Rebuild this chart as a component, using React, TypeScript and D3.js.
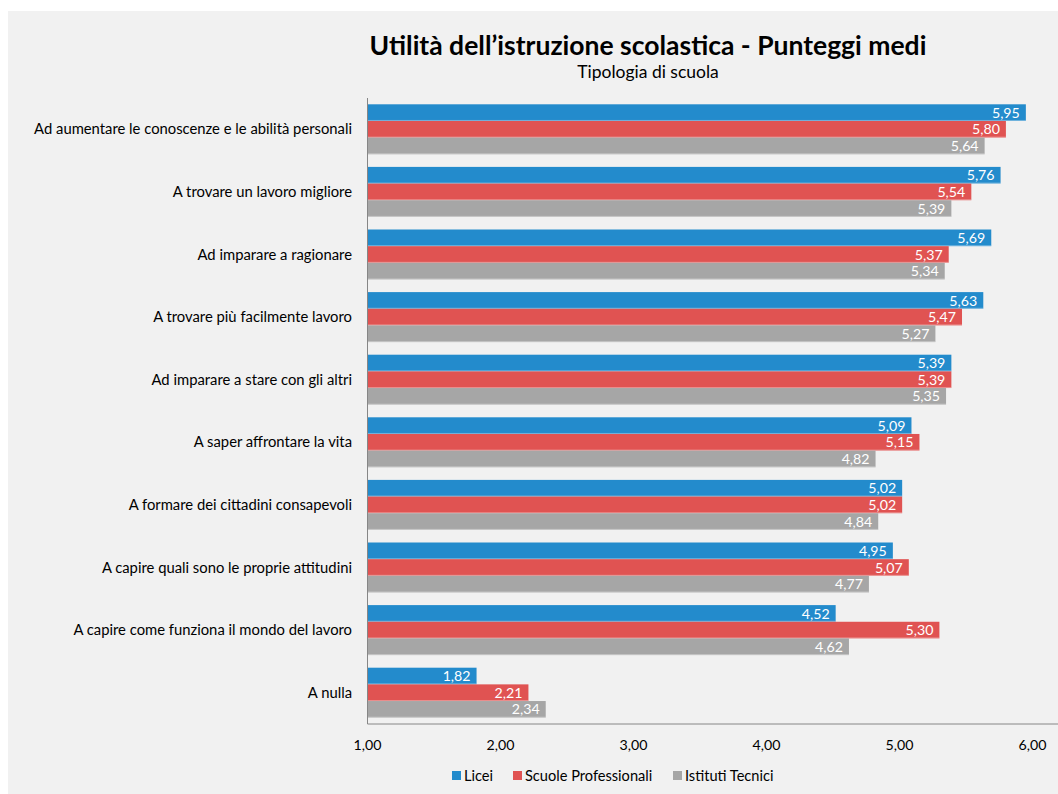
import React from "react";
import * as d3 from "d3";

const categories = [
  "Ad aumentare le conoscenze e le abilità personali",
  "A trovare un lavoro migliore",
  "Ad imparare a ragionare",
  "A trovare più facilmente lavoro",
  "Ad imparare a stare con gli altri",
  "A saper affrontare la vita",
  "A formare dei cittadini consapevoli",
  "A capire quali sono le proprie attitudini",
  "A capire come funziona il mondo del lavoro",
  "A nulla",
];
const licei = [5.95, 5.76, 5.69, 5.63, 5.39, 5.09, 5.02, 4.95, 4.52, 1.82];
const professionali = [5.8, 5.54, 5.37, 5.47, 5.39, 5.15, 5.02, 5.07, 5.3, 2.21];
const tecnici = [5.64, 5.39, 5.34, 5.27, 5.35, 4.82, 4.84, 4.77, 4.62, 2.34];
const seriesNames = ["Licei", "Scuole Professionali", "Istituti Tecnici"];
const seriesColors = ["#238bcc", "#e05352", "#a6a6a6"];
const ticks = [1, 2, 3, 4, 5, 6];

const W = 1058;
const H = 794;
const FONT = "Lato, 'Open Sans', sans-serif";

export default function App() {
  const x = d3.scaleLinear().domain([1, 6]).range([367.5, 1032.5]);
  const y = d3.scaleBand<string>().domain(categories).range([98, 724]);
  const series = [licei, professionali, tecnici];
  const bandH = y.bandwidth();
  const inset = 6.3;
  const barH = (bandH - 2 * inset) / 3;
  const fmt = (v: number) => v.toFixed(2).replace(".", ",");

  const legendItems = [
    { x: 452, label: seriesNames[0], color: seriesColors[0] },
    { x: 513, label: seriesNames[1], color: seriesColors[1] },
    { x: 673, label: seriesNames[2], color: seriesColors[2] },
  ];

  return (
    <svg
      width={W}
      height={H}
      style={{ position: "absolute", left: 0, top: 0, fontFamily: FONT }}
    >
      <rect x={0} y={0} width={W} height={H} fill="#ffffff" />
      <rect x={8} y={11} width={W - 8} height={H - 11} fill="#f1f1f1" />

      <text
        x={648}
        y={55}
        textAnchor="middle"
        fontSize={26.5}
        fontWeight="bold"
        fill="#000"
      >
        Utilità dell’istruzione scolastica - Punteggi medi
      </text>
      <text x={648} y={78} textAnchor="middle" fontSize={17.5} fill="#000">
        Tipologia di scuola
      </text>

      {categories.map((c, i) => {
        const y0 = (y(c) as number) + inset;
        return (
          <g key={c}>
            <text
              x={352}
              y={y0 + barH * 1.5}
              dy="0.35em"
              textAnchor="end"
              fontSize={14.8}
              fill="#000"
            >
              {c}
            </text>
            {series.map((s, j) => {
              const v = s[i];
              const yy = y0 + j * barH;
              return (
                <g key={j}>
                  <rect
                    x={x(1)}
                    y={yy}
                    width={x(v) - x(1)}
                    height={barH}
                    fill={seriesColors[j]}
                  />
                  <line
                    x1={x(1)}
                    x2={x(v)}
                    y1={yy + barH - 0.5}
                    y2={yy + barH - 0.5}
                    stroke="#ffffff"
                    strokeOpacity={0.35}
                    strokeWidth={1}
                  />
                  <text
                    x={x(v) - 6}
                    y={yy + barH / 2}
                    dy="0.36em"
                    textAnchor="end"
                    fontSize={14.2}
                    fill="#ffffff"
                  >
                    {fmt(v)}
                  </text>
                </g>
              );
            })}
          </g>
        );
      })}

      <line x1={367.5} x2={367.5} y1={98} y2={724} stroke="#868686" strokeWidth={1} />
      <line x1={367.5} x2={1058} y1={724} y2={724} stroke="#868686" strokeWidth={1} />

      {ticks.map((t) => (
        <text
          key={t}
          x={x(t)}
          y={750}
          textAnchor="middle"
          fontSize={14.2}
          fill="#000"
        >
          {fmt(t)}
        </text>
      ))}

      {legendItems.map((it) => (
        <g key={it.label}>
          <rect x={it.x} y={771} width={9} height={9} fill={it.color} />
          <text x={it.x + 12} y={781} fontSize={14.6} fill="#000">
            {it.label}
          </text>
        </g>
      ))}
    </svg>
  );
}
